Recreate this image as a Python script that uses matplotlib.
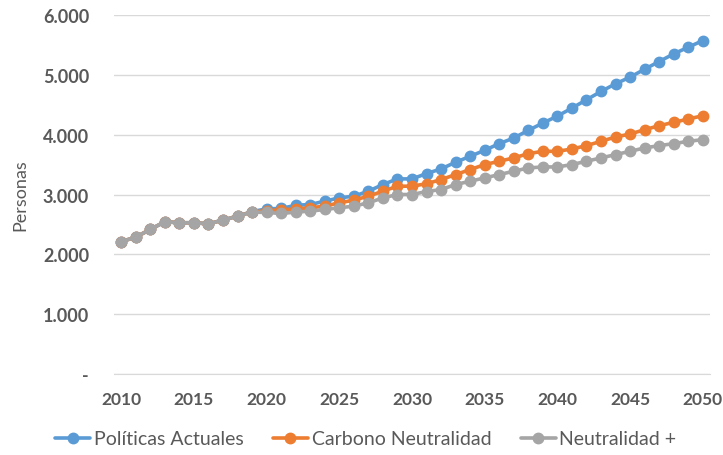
import matplotlib
matplotlib.use("Agg")
import matplotlib.pyplot as plt
from matplotlib.ticker import FixedLocator

years = list(range(2010, 2051))
politicas_actuales = [2212, 2288, 2417, 2545, 2528, 2528, 2511, 2572, 2639, 2715,
                      2760, 2767, 2820, 2833, 2889, 2944, 2972, 3056, 3167, 3261,
                      3261, 3350, 3428, 3539, 3639, 3739, 3850, 3944, 4072, 4194,
                      4310, 4444, 4583, 4722, 4850, 4961, 5094, 5222, 5350, 5461, 5572]
carbono_neutralidad = [2212, 2288, 2417, 2545, 2528, 2528, 2511, 2572, 2639, 2706,
                       2730, 2740, 2760, 2778, 2806, 2861, 2906, 2972, 3056, 3139,
                       3139, 3180, 3250, 3333, 3417, 3500, 3556, 3611, 3683, 3722,
                       3722, 3760, 3817, 3889, 3961, 4011, 4083, 4150, 4206, 4261, 4317]
neutralidad_plus = [2212, 2288, 2417, 2545, 2528, 2528, 2511, 2572, 2639, 2706,
                    2700, 2683, 2706, 2722, 2750, 2778, 2806, 2861, 2944, 3000,
                    3000, 3050, 3083, 3167, 3222, 3278, 3333, 3389, 3444, 3461,
                    3461, 3500, 3556, 3611, 3667, 3722, 3778, 3817, 3850, 3889, 3917]
series_names = ["Políticas Actuales", "Carbono Neutralidad", "Neutralidad +"]
series_colors = ["#5B9BD5", "#ED7D31", "#A5A5A5"]
y_ticks = [0, 1000, 2000, 3000, 4000, 5000, 6000]
y_tick_labels = ["-", "1.000", "2.000", "3.000", "4.000", "5.000", "6.000"]
x_ticks = [2010, 2015, 2020, 2025, 2030, 2035, 2040, 2045, 2050]

plt.rcParams['font.family'] = ['Lato', 'DejaVu Sans']

fig = plt.figure(figsize=(7.23, 4.56), dpi=100)
ax = fig.add_axes([0.1577, 0.1776, 0.8243, 0.7873])

for name, vals, col in zip(series_names,
                           [politicas_actuales, carbono_neutralidad, neutralidad_plus],
                           series_colors):
    ax.plot(years, vals, color=col, lw=2.6, marker='o', ms=7.5, label=name,
            solid_capstyle='round')

ax.set_xlim(2009.5, 2050.5)
ax.set_ylim(0, 6000)
ax.yaxis.set_major_locator(FixedLocator(y_ticks))
ax.set_yticklabels(y_tick_labels)
ax.set_xticks(x_ticks)
ax.set_xticklabels([str(x) for x in x_ticks])

ax.grid(axis='y', color='#D9D9D9', lw=1)
ax.set_axisbelow(True)
for s in ['top', 'right', 'left']:
    ax.spines[s].set_visible(False)
ax.spines['bottom'].set_color('#D9D9D9')
ax.tick_params(axis='y', length=0, colors='#595959', labelsize=13, pad=18)
ax.tick_params(axis='x', length=0, colors='#595959', labelsize=12.5, pad=12)
for lab in ax.get_xticklabels() + ax.get_yticklabels():
    lab.set_fontweight('bold')

fig.text(20.5 / 723, 1 - 195.5 / 456, "Personas", color='#595959', fontsize=13,
         rotation=90, ha='center', va='center')

leg = fig.legend(loc='center', bbox_to_anchor=(0.506, 1 - 440 / 456), ncol=3,
                 frameon=False, fontsize=14, handlelength=1.8, columnspacing=1.5,
                 handletextpad=0.2)
for t in leg.get_texts():
    t.set_color('#595959')

fig.savefig("out.png", dpi=100)
